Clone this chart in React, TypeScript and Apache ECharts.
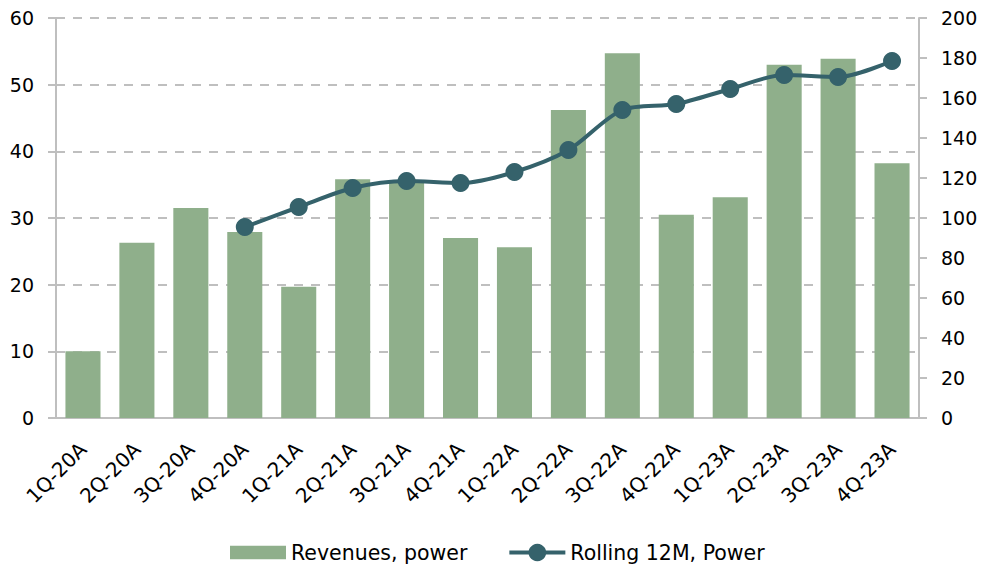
import React, { useEffect, useRef } from "react";
import * as echarts from "echarts";

const categories = ["1Q-20A","2Q-20A","3Q-20A","4Q-20A","1Q-21A","2Q-21A","3Q-21A","4Q-21A","1Q-22A","2Q-22A","3Q-22A","4Q-22A","1Q-23A","2Q-23A","3Q-23A","4Q-23A"];
const revenues = [10, 26.3, 31.5, 27.9, 19.7, 35.8, 35.7, 27, 25.6, 46.2, 54.7, 30.5, 33.1, 53, 53.9, 38.2];
const rolling12m: (number | null)[] = [null, null, null, 95.5, 105.5, 115, 118.5, 117.5, 123, 134, 154, 157, 164.5, 171.5, 170.5, 178.5];
const leftTicks = { min: 0, max: 60, interval: 10 };
const rightTicks = { min: 0, max: 200, interval: 20 };

const FONT = "DejaVu Sans";
const GREY = "#bfbfbf";

export default function App() {
  const ref = useRef<HTMLDivElement>(null);
  useEffect(() => {
    if (!ref.current) return;
    const chart = echarts.init(ref.current, undefined, { renderer: "svg" });
    chart.setOption({
      animation: false,
      textStyle: { fontFamily: FONT },
      grid: { left: 56, right: 65, top: 18, bottom: 149, containLabel: false },
      legend: {
        top: 537,
        left: 225,
        itemWidth: 56,
        itemHeight: 22,
        itemGap: 40,
        textStyle: { fontFamily: FONT, fontSize: 20.5, color: "#000" },
        data: [
          { name: "Revenues, power", icon: "path://M0,0 L53,0 L53,13 L0,13 Z" },
          { name: "Rolling 12M, Power", lineStyle: { width: 4 } },
        ],
      },
      xAxis: {
        type: "category",
        data: categories,
        axisLine: { show: true, lineStyle: { color: GREY, width: 2 } },
        axisTick: { show: false },
        axisLabel: { rotate: 45, fontFamily: FONT, fontSize: 20, color: "#000", margin: 28, interval: 0 },
      },
      yAxis: [
        {
          type: "value",
          ...leftTicks,
          axisLine: { show: true, lineStyle: { color: GREY, width: 2 } },
          axisTick: { show: true, inside: false, length: 8, lineStyle: { color: GREY, width: 2 } },
          axisLabel: { fontFamily: FONT, fontSize: 19, color: "#000", margin: 22 },
          splitLine: { show: true, lineStyle: { color: GREY, width: 2, type: [9, 8] } },
        },
        {
          type: "value",
          ...rightTicks,
          position: "right",
          axisLine: { show: true, lineStyle: { color: GREY, width: 2 } },
          axisTick: { show: true, inside: false, length: 8, lineStyle: { color: GREY, width: 2 } },
          axisLabel: { fontFamily: FONT, fontSize: 19, color: "#000", margin: 22 },
          splitLine: { show: false },
        },
      ],
      series: [
        {
          name: "Revenues, power",
          type: "bar",
          data: revenues,
          yAxisIndex: 0,
          barCategoryGap: "35%",
          itemStyle: { color: "#8faf8b" },
        },
        {
          name: "Rolling 12M, Power",
          type: "line",
          data: rolling12m,
          yAxisIndex: 1,
          smooth: 0.3,
          symbol: "circle",
          symbolSize: 18,
          lineStyle: { color: "#35626b", width: 4 },
          itemStyle: { color: "#35626b" },
          z: 3,
        },
      ],
    });
    return () => chart.dispose();
  }, []);
  return <div ref={ref} style={{ width: 984, height: 567, position: "absolute", left: 0, top: 0 }} />;
}
